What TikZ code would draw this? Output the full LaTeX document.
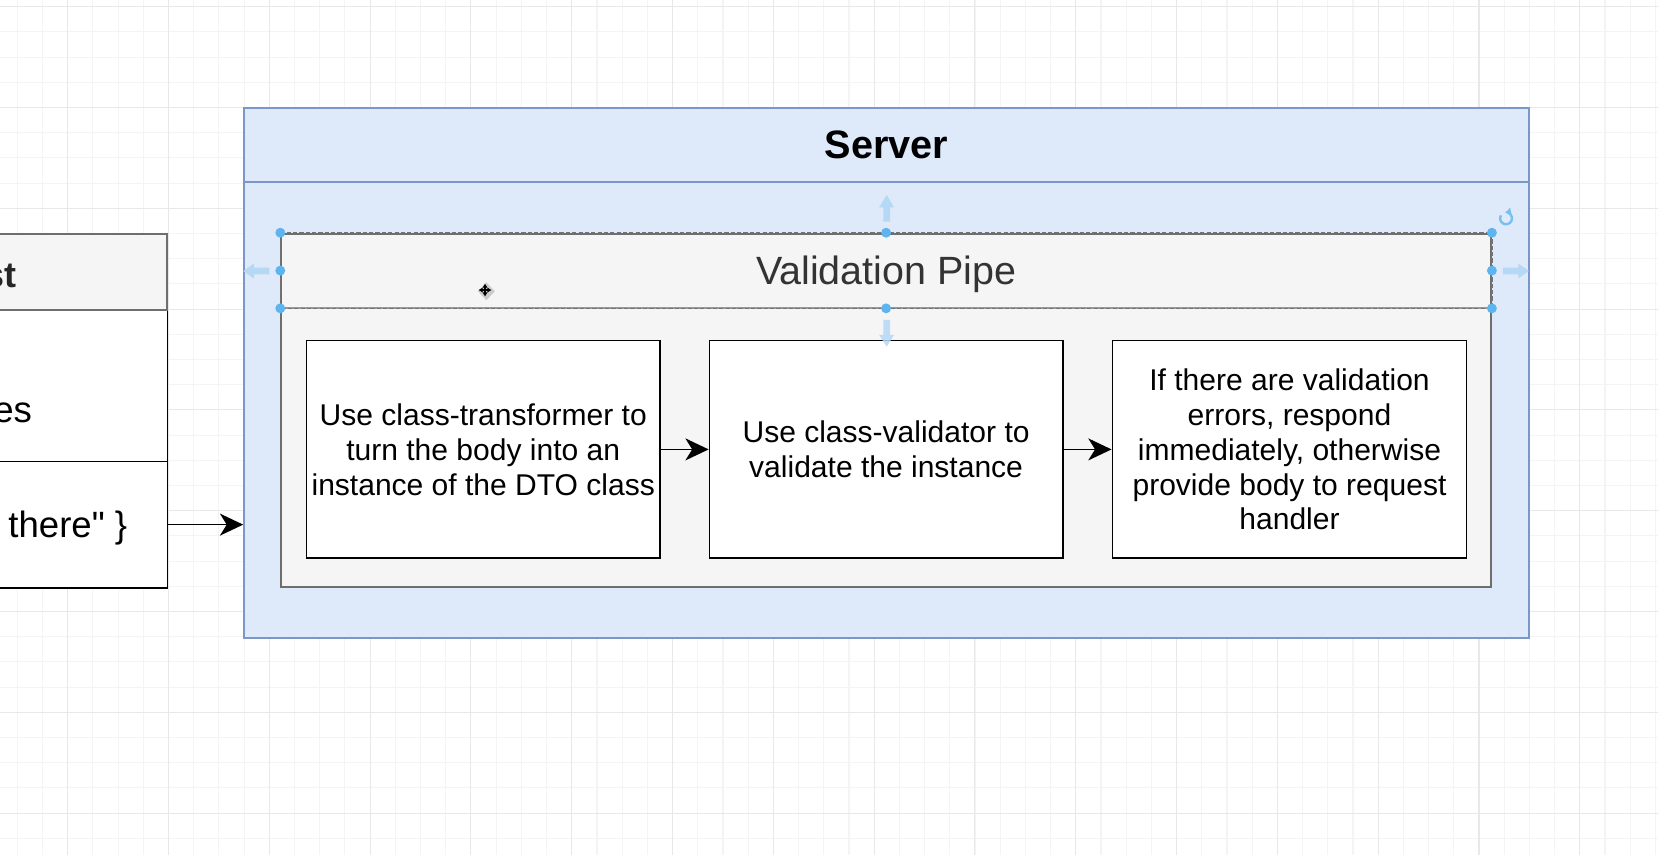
\documentclass[tikz,border=0pt]{standalone}
\usepackage{fontspec}
\setmainfont{Liberation Sans}[Ligatures=TeXOff]
\usetikzlibrary{arrows.meta}
\definecolor{srvfill}{HTML}{DEE9FA}
\definecolor{srvline}{HTML}{7B97C9}
\definecolor{pipefill}{HTML}{F5F5F5}
\definecolor{pipeline}{HTML}{6E6E6E}
\definecolor{pipetext}{HTML}{333333}
\definecolor{gridminorc}{HTML}{F4F4F4}
\definecolor{gridmajorc}{HTML}{E8E8E8}
\definecolor{handlec}{HTML}{5EB4EE}
\definecolor{hoverc}{HTML}{B5D8F5}
\begin{document}
\begin{tikzpicture}[x=0.5pt,y=-0.5pt,
  gridminor/.style={draw=gridminorc, line width=0.5pt},
  gridmajor/.style={draw=gridmajorc, line width=0.5pt},
  serverbox/.style={draw=srvline, fill=srvfill, line width=1pt, minimum width=607.5pt, minimum height=250.5pt, inner sep=0pt},
  pipebox/.style={draw=pipeline, fill=pipefill, line width=0.9pt, minimum width=572pt, minimum height=167pt, inner sep=0pt},
  stepbox/.style={draw=black, fill=white, line width=0.8pt, minimum width=167pt, minimum height=103pt, inner sep=0pt, align=center, font=\fontsize{14.2pt}{16.5pt}\selectfont},
  reqhead/.style={draw=pipeline, fill=pipefill, line width=0.9pt, minimum width=200pt, minimum height=35.9pt, inner sep=0pt},
  reqrow/.style={draw=black, fill=white, line width=0.8pt, minimum width=200pt, inner sep=0pt},
  reqtext/.style={inner sep=0pt, font=\fontsize{17.3pt}{20pt}\selectfont},
  titletext/.style={inner sep=0pt, font=\fontsize{18.75pt}{22pt}\selectfont\bfseries},
  flow/.style={draw=black, line width=0.8pt, -{Stealth[length=11pt,width=10.4pt,inset=3.2pt]}},
  handle/.style={fill=handlec, draw=none},
  hover/.style={fill=hoverc, draw=none},
  selline/.style={draw=black!55, line width=0.7pt, dash pattern=on 2pt off 1pt}
]
\useasboundingbox (0,0) rectangle (1568,808.6);
\clip (0,0) rectangle (1568,808.6);
\fill[white] (0,0) rectangle (1568,808.6);
% grid
\foreach \k [evaluate=\k as \xx using 16.4+\k*23.833] in {0,...,65}
  \draw[gridminor] (\xx,0) -- (\xx,808.6);
\foreach \k [evaluate=\k as \yy using 6.3+\k*23.833] in {0,...,33}
  \draw[gridminor] (0,\yy) -- (1568,\yy);
\foreach \k [evaluate=\k as \xx using 64.06+\k*95.33] in {0,...,15}
  \draw[gridmajor] (\xx,0) -- (\xx,808.6);
\foreach \k [evaluate=\k as \yy using 6.3+\k*95.33] in {0,...,8}
  \draw[gridmajor] (0,\yy) -- (1568,\yy);

% left (request) box, partly outside the picture
\node[reqrow, minimum height=71.6pt, anchor=north east] (reqrow1) at (159.2,292.5) {};
\node[reqrow, minimum height=59.65pt, anchor=north east] (reqrow2) at (159.2,435.7) {};
\node[reqhead, anchor=north east] (reqhead) at (159.2,220.7) {};
\node[inner sep=0pt, font=\fontsize{17pt}{20pt}\selectfont\bfseries, anchor=base east, text=black!85] (reqtitle) at (16,272) {st};
\node[reqtext, anchor=base east] (reqtext1) at (30.6,399.7) {es};
\node[reqtext, anchor=base east] (reqtext2) at (120.7,508) {there"\ \}};

% server
\node[serverbox] (server) at (838.5,352.5) {};
\draw[draw=srvline, line width=1pt] ([yshift=-35.5pt]server.north west) -- ([yshift=-35.5pt]server.north east);
\node[titletext] (servertitle) at (838.5,137) {Server};

% validation pipe
\node[pipebox] (pipe) at (838,388) {};
\coordinate (phw) at ([yshift=-35.75pt]pipe.north west);
\coordinate (phe) at ([yshift=-35.75pt]pipe.north east);
\coordinate (phs) at ([yshift=-35.75pt]pipe.north);
\coordinate (pmw) at ([yshift=-17.9pt]pipe.north west);
\coordinate (pme) at ([yshift=-17.9pt]pipe.north east);
\draw[draw=pipeline!70, line width=0.9pt] (phw) -- (phe);
\node[inner sep=0pt, anchor=base, text=pipetext, font=\fontsize{18.65pt}{22pt}\selectfont] (pipetitle) at (838,269.4) {Validation Pipe};

% steps
\node[stepbox] (s1) at (457,425) {Use class-transformer to\\turn the body into an\\instance of the DTO class};
\node[stepbox] (s2) at (838,425) {Use class-validator to\\validate the instance};
\node[stepbox, minimum width=167.5pt] (s3) at (1219.5,425) {If there are validation\\errors, respond\\immediately, otherwise\\provide body to request\\handler};

\draw[flow] (s1.east) -- (s2.west);
\draw[flow] (s2.east) -- (s3.west);
\draw[flow] (reqrow2.east) -- (reqrow2.east -| server.west);

% selection outline of the pipe header
\draw[selline] (pipe.north west) -- (pipe.north east) -- (phe) -- (phw) -- cycle;

% hover arrows
\fill[hover] (835.3,209.6) -- (835.3,196) -- (831.5,196) -- (838.5,184.4) -- (845.5,196) -- (841.7,196) -- (841.7,209.6) -- cycle;
\fill[hover, opacity=0.85] (835.3,302.6) -- (835.3,316.8) -- (831.5,316.8) -- (838.5,327.9) -- (845.5,316.8) -- (841.7,316.8) -- (841.7,302.6) -- cycle;
\fill[hover] (254.7,253.1) -- (240,253.1) -- (240,249.3) -- (230.1,256.3) -- (240,263.3) -- (240,259.5) -- (254.7,259.5) -- cycle;
\fill[hover] (1421.3,253.1) -- (1436,253.1) -- (1436,249.3) -- (1445.9,256.3) -- (1436,263.3) -- (1436,259.5) -- (1421.3,259.5) -- cycle;

% handles
\foreach \p in {pipe.north west, pipe.north, pipe.north east, pmw, pme, phw, phs, phe}
  \fill[handle] (\p) circle[radius=4.7];

% rotate icon
\draw[handlec!85, line width=1.1pt, -{Latex[length=2.8pt,width=4pt]}] (1424.3,206.5) ++(210:5.6) arc[start angle=210, end angle=-100, radius=5.6];

% move cursor
\fill[black!30, opacity=0.6] (460,267) -- (468,275.5) -- (460,284) -- (452,275.5) -- cycle;
\draw[black, line width=0.8pt, {Latex[length=2pt,width=2.6pt]}-{Latex[length=2pt,width=2.6pt]}] (452.5,274.3) -- (464.9,274.3);
\draw[black, line width=0.8pt, {Latex[length=2pt,width=2.6pt]}-{Latex[length=2pt,width=2.6pt]}] (458.7,268.1) -- (458.7,280.5);
\end{tikzpicture}
\end{document}
